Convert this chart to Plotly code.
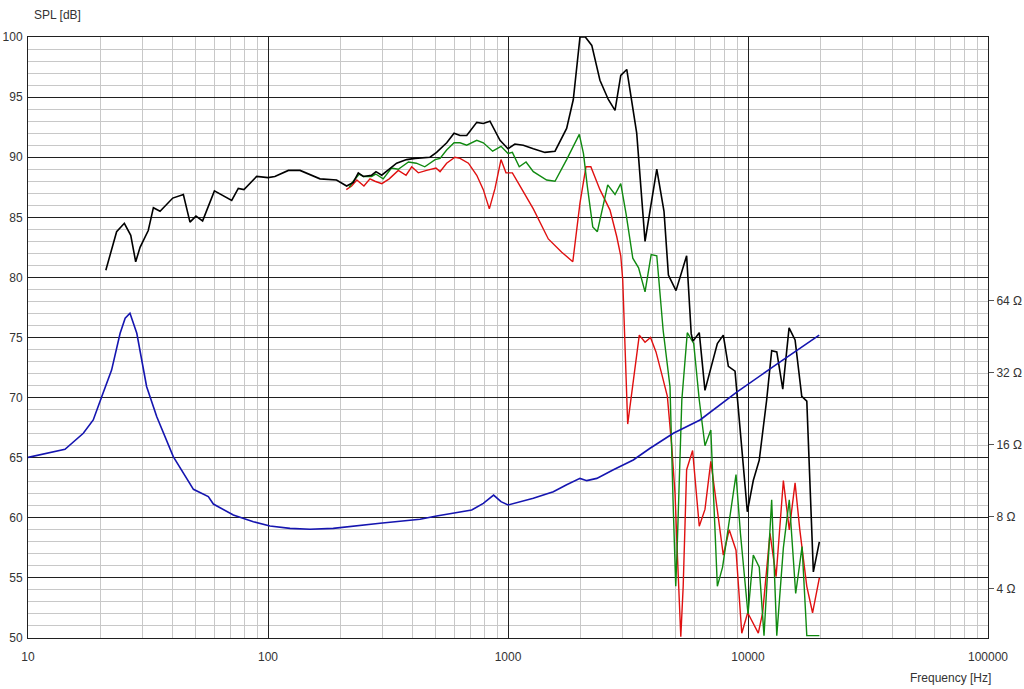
import plotly.graph_objects as go

# ---------------- data ----------------
black_f = [21.1, 23.4, 25.2, 26.8, 28.1, 29.3, 31.7, 33.3, 35.5, 40.1, 44.4, 47.3, 50.1, 53.4, 59.8,
           70.6, 75.2, 79.4, 89.7, 100, 106.8, 121.6, 136, 164.7, 193, 212.6, 226.6, 237.8, 249.6,
           270.3, 281.8, 297.7, 343.6, 378, 410, 473, 504, 555.5, 596, 631, 673, 741, 789, 841, 926,
           1000, 1068, 1158, 1275, 1425, 1570, 1755, 1871, 1995, 2100, 2234, 2416, 2618, 2792, 2950,
           3125, 3438, 3724, 4168, 4467, 4660, 5012, 5550, 5800, 5900, 6265, 6618, 7452, 7890, 8282,
           8830, 9937, 10520, 11140, 11960, 12550, 13180, 13960, 14830, 15710, 16750, 17580, 18720, 19830]
black_db = [80.6, 83.8, 84.5, 83.5, 81.3, 82.5, 83.9, 85.8, 85.5, 86.6, 86.9, 84.6, 85.1, 84.7, 87.2,
            86.4, 87.4, 87.3, 88.4, 88.3, 88.4, 88.9, 88.9, 88.2, 88.1, 87.6, 87.9, 88.7, 88.4,
            88.5, 88.8, 88.5, 89.5, 89.8, 89.9, 90.0, 90.4, 91.2, 92.0, 91.8, 91.8, 92.9, 92.8, 93.0, 91.4,
            90.7, 91.1, 91.0, 90.7, 90.4, 90.5, 92.4, 94.8, 100.0, 100.0, 99.3, 96.4, 94.8, 93.9, 96.8,
            97.3, 92.0, 83.0, 89.0, 85.5, 80.2, 78.9, 81.8, 75.3, 74.7, 75.4, 70.6, 74.5, 75.2, 72.6,
            72.2, 60.5, 63.1, 64.8, 69.8, 73.9, 73.8, 70.7, 75.8, 74.8, 70.1, 69.7, 55.5, 58.0]

red_f = [212, 223, 234.5, 251, 266, 279, 298, 320, 349, 376, 397, 423, 458, 501, 521, 555, 601, 631,
         684, 741, 789, 836, 883, 935, 981, 1043, 1123, 1275, 1472, 1675, 1862, 1995, 2113, 2214,
         2416, 2661, 2838, 2950, 3006, 3073, 3153, 3524, 3724, 3925, 4137, 4367, 4613, 4808, 4966,
         5070, 5248, 5370, 5550, 5877, 6265, 6618, 7000, 7890, 8350, 8913, 9420, 9970, 11040, 11510,
         12350, 13090, 14040, 14860, 15710, 16440, 17580, 18580, 19830]
red_db = [87.3, 87.6, 88.1, 87.6, 88.2, 88.0, 87.8, 88.2, 88.9, 88.5, 89.2, 88.7, 88.9, 89.1, 88.8, 89.5, 90.0, 89.9,
          89.5, 88.5, 87.3, 85.7, 87.4, 89.8, 88.7, 88.7, 87.6, 85.7, 83.2, 82.1, 81.3, 86.2, 89.2, 89.2,
          87.3, 85.6, 83.4, 81.8, 79.8, 74.0, 67.8, 75.2, 74.6, 75.0, 73.8, 72.0, 70.1, 66.0, 62.0,
          57.3, 50.1, 54.3, 64.0, 65.6, 59.3, 60.7, 64.7, 56.9, 59.0, 57.3, 50.4, 52.1, 50.4, 52.1,
          58.7, 55.1, 63.1, 59.0, 62.9, 59.0, 54.3, 52.1, 55.0]

green_f = [218, 226.6, 240, 250, 270, 281, 302, 327, 349, 385, 415, 450, 497, 521, 555, 596, 631, 673,
           741, 789, 863, 935, 1000, 1043, 1114, 1189, 1275, 1449, 1570, 1755, 1982, 2063, 2140, 2255,
           2357, 2603, 2792, 2950, 3103, 3311, 3500, 3724, 3950, 4168, 4430, 4732, 4870, 5000, 5070,
           5300, 5585, 5940, 6265, 6618, 7000, 7200, 7452, 7834, 8350, 8913, 9300, 9870, 10000, 10520,
           11140, 11660, 12550, 13180, 14040, 14860, 15800, 16800, 17580, 19830]
green_db = [87.5, 88.0, 88.6, 88.4, 88.4, 88.6, 88.2, 89.1, 89.0, 89.6, 89.5, 89.2, 89.8, 89.9, 90.6, 91.2, 91.2, 91.0,
            91.4, 91.2, 90.5, 90.9, 90.3, 90.4, 89.2, 89.6, 88.8, 88.1, 88.0, 89.8, 91.9, 90.3, 87.6, 84.2,
            83.8, 87.7, 86.9, 87.8, 85.3, 81.6, 80.8, 78.8, 81.9, 81.8, 75.6, 70.9, 61.5, 54.3, 57.6,
            69.8, 75.4, 74.5, 69.8, 66.0, 67.3, 62.0, 54.3, 55.9, 59.5, 63.6, 58.7, 53.7, 52.0, 56.9,
            55.9, 50.2, 61.5, 50.2, 57.5, 61.5, 53.7, 57.6, 50.2, 50.2]

imp_f = [10, 14.26, 17.0, 18.7, 20.3, 22.3, 24.2, 25.4, 26.6, 28.4, 31.2, 34.4, 40.3, 48.9, 56.4, 59.2,
         71.7, 86.9, 101.9, 123.5, 149.6, 187, 293, 430, 504, 706, 789, 871, 935, 1000, 1275, 1545,
         1755, 1995, 2130, 2344, 2749, 3326, 3908, 4887, 6310, 8977, 12740, 19800]
imp_ohm = [14.2, 15.35, 17.9, 20.35, 25.5, 32.9, 46.9, 54.2, 56.9, 46.9, 28.1, 21.0, 14.3, 10.44, 9.73, 9.06,
           8.15, 7.64, 7.33, 7.17, 7.11, 7.17, 7.53, 7.82, 8.07, 8.55, 9.12, 9.88, 9.27, 8.98, 9.57, 10.2,
           10.9, 11.6, 11.35, 11.6, 12.6, 13.85, 15.5, 17.9, 20.35, 26.6, 34.0, 46.1]

x_tickvals = [10, 100, 1000, 10000, 100000]
x_ticktext = ["10", "100", "1000", "10000", "100000"]
z_tickvals = [4, 8, 16, 32, 64]
z_ticktext = ["4 Ω", "8 Ω", "16 Ω", "32 Ω", "64 Ω"]

# ---------------- figure ----------------
fig = go.Figure()
fig.add_trace(go.Scatter(x=imp_f, y=imp_ohm, mode="lines", yaxis="y2",
                         line=dict(color="#1515b0", width=1.6), showlegend=False))
fig.add_trace(go.Scatter(x=red_f, y=red_db, mode="lines",
                         line=dict(color="#e01010", width=1.4), showlegend=False))
fig.add_trace(go.Scatter(x=green_f, y=green_db, mode="lines",
                         line=dict(color="#108a10", width=1.4), showlegend=False))
fig.add_trace(go.Scatter(x=black_f, y=black_db, mode="lines",
                         line=dict(color="#000000", width=1.6), showlegend=False))

tickfont = dict(family="Liberation Sans, Arial, sans-serif", size=12, color="#333333")

fig.update_layout(
    width=1024, height=689,
    margin=dict(l=28, r=36, t=37, b=51, autoexpand=False),
    paper_bgcolor="white", plot_bgcolor="white",
    font=tickfont,
    xaxis=dict(type="log", range=[1, 5], tickvals=x_tickvals, ticktext=x_ticktext,
               showgrid=True, gridcolor="#202020", gridwidth=1, automargin=False,
               minor=dict(tickvals=[m * d for d in [10, 100, 1000, 10000] for m in range(2, 10)],
                          showgrid=True, gridcolor="#c8c8c8", gridwidth=1, ticks=""),
               showline=True, linecolor="#202020", linewidth=1, mirror=True,
               ticks="", zeroline=False, tickfont=tickfont, ticklabelstandoff=8),
    yaxis=dict(range=[50, 100], dtick=5, tick0=50, automargin=False,
               showgrid=True, gridcolor="#202020", gridwidth=1,
               minor=dict(dtick=1, showgrid=True, gridcolor="#c8c8c8", gridwidth=1, ticks=""),
               showline=True, linecolor="#202020", linewidth=1, mirror=True,
               ticks="", zeroline=False, tickfont=tickfont, ticklabelstandoff=2),
    yaxis2=dict(type="log", range=[0.397, 2.910], overlaying="y", side="right", automargin=False,
                tickvals=z_tickvals, ticktext=z_ticktext, showgrid=False,
                ticks="outside", ticklen=5, tickcolor="#555555", tickfont=tickfont,
                zeroline=False, showline=False),
    annotations=[
        dict(text="SPL [dB]", xref="paper", yref="paper", x=0.004, y=1.0, yshift=22,
             xanchor="left", yanchor="middle", showarrow=False, font=tickfont),
        dict(text="Frequency [Hz]", xref="paper", yref="paper", x=1.005, y=0, yshift=-40,
             xanchor="right", yanchor="middle", showarrow=False, font=tickfont),
    ],
)

# remove the browser's default 8px body margin so the figure fills the window
fig.write_html("out.html", config={"displayModeBar": False},
               post_script="document.body.style.margin='0';")
